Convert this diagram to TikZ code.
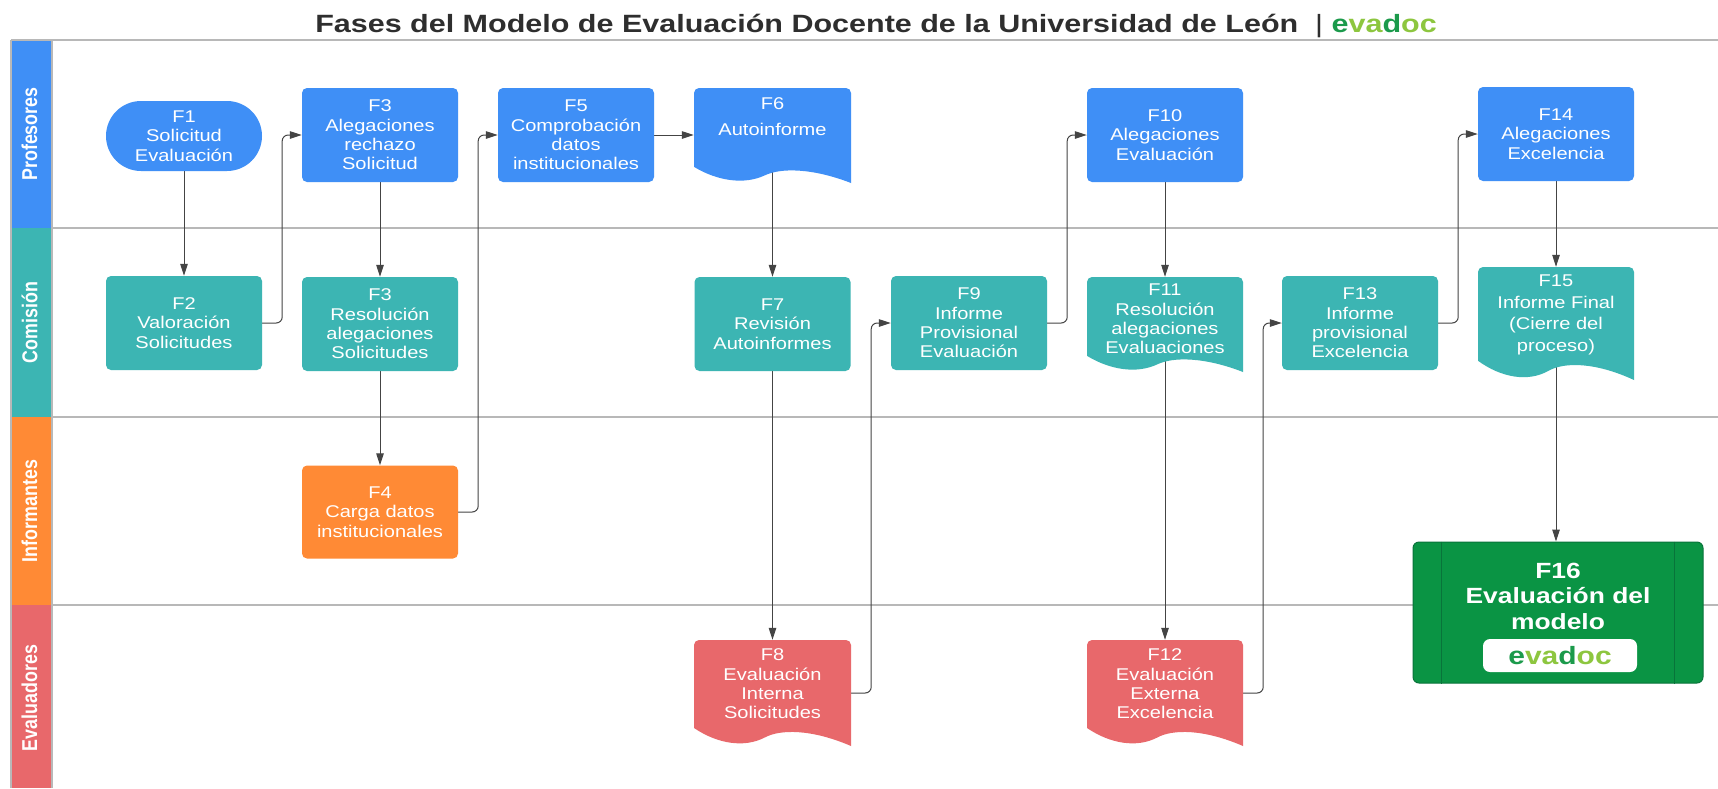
\documentclass[tikz,border=0pt]{standalone}
\usepackage{fontspec}
\usetikzlibrary{arrows.meta,calc}
\newfontfamily\bodyf{Liberation Sans}[FakeStretch=1.18]
\newfontfamily\lanef{Liberation Sans}[FakeStretch=0.83]
\newfontfamily\titlef{Liberation Sans}[FakeStretch=1.2]
\newfontfamily\headf{Liberation Sans}[FakeStretch=1.22]
\definecolor{cblue}{HTML}{3F8FF6}
\definecolor{cteal}{HTML}{3CB5B3}
\definecolor{corange}{HTML}{FF8A35}
\definecolor{cred}{HTML}{E8686B}
\definecolor{cgreen}{HTML}{0A9444}
\definecolor{cgreendark}{HTML}{08743A}
\definecolor{evdark}{HTML}{1B9A4B}
\definecolor{evlight}{HTML}{8DC63F}
\definecolor{lanegray}{HTML}{B8B8B8}
\definecolor{conncol}{HTML}{444444}
\definecolor{titlecol}{HTML}{2E2E2E}
\pgfdeclarelayer{lanes}
\pgfdeclarelayer{links}
\pgfsetlayers{lanes,links,main}
\newcommand\evadoc{\textcolor{evdark}{e}\textcolor{evlight}{va}\textcolor{evdark}{d}\textcolor{evlight}{oc}}
% document shape: x0 y0 w h colour
\newcommand\docfill[5]{%
 \fill[#5] ({#1},{#2+5}) .. controls ({#1},{#2+2.24}) and ({#1+2.24},{#2}) .. ({#1+5},{#2})
  -- ({#1+#3-5},{#2}) .. controls ({#1+#3-2.24},{#2}) and ({#1+#3},{#2+2.24}) .. ({#1+#3},{#2+5})
  -- ({#1+#3},{#2+#4}) .. controls ({#1+0.75*#3},{#2+0.84*#4}) and ({#1+0.55*#3},{#2+0.84*#4}) .. ({#1+0.45*#3},{#2+0.92*#4})
  .. controls ({#1+0.32*#3},{#2+1.02*#4}) and ({#1+0.15*#3},{#2+0.98*#4}) .. ({#1},{#2+0.83*#4}) -- cycle;}
\tikzset{
  box/.style={rectangle, rounded corners=5pt, minimum width=156pt, minimum height=94pt,
    inner sep=0pt, text=white, align=center, font=\bodyf\fontsize{17}{19.3}\selectfont},
  frame/.style={rectangle, inner sep=0pt},
  doctext/.style={inner sep=0pt, text=white, align=center, font=\bodyf\fontsize{17}{19.3}\selectfont},
  lanelabel/.style={rotate=90, inner sep=0pt, text=white, font=\lanef\bfseries\fontsize{21.5}{24}\selectfont},
  laneline/.style={draw=lanegray, line width=1.2pt},
  link/.style={draw=conncol, line width=1pt, rounded corners=6pt, -{Triangle[length=12pt,width=7.5pt]}},
}
\begin{document}
\begin{tikzpicture}[x=1pt,y=-1pt]
\useasboundingbox (0,0) rectangle (1718,788);

% title
\node[anchor=base, inner sep=0pt, text=titlecol, font=\headf\bfseries\fontsize{25}{30}\selectfont] (title) at (876,32)
  {Fases del Modelo de Evaluación Docente de la Universidad de León\ \ {\mdseries|} \evadoc};

% lanes
\begin{pgfonlayer}{lanes}
\fill[white] (0,0) rectangle (1718,788);
\fill[cblue] (11,40) rectangle (52,228);
\fill[cteal] (11,228) rectangle (52,417);
\fill[corange] (11,417) rectangle (52,605);
\fill[cred] (11,605) rectangle (52,788);
\draw[laneline] (11,40) -- (1718,40);
\draw[laneline] (52,228) -- (1718,228);
\draw[laneline] (52,417) -- (1718,417);
\draw[laneline] (52,605) -- (1718,605);
\draw[laneline] (11,40) -- (11,788);
\draw[laneline] (52,40) -- (52,788);
\end{pgfonlayer}
\node[lanelabel] (L1) at (29.5,134) {Profesores};
\node[lanelabel] (L2) at (29.5,322.5) {Comisión};
\node[lanelabel] (L3) at (29.5,511) {Informantes};
\node[lanelabel] (L4) at (29.5,698) {Evaluadores};

% row Profesores
\node[box, fill=cblue, minimum height=70pt, rounded corners=35pt] (F1) at (184,136) {F1\\Solicitud\\Evaluación};
\node[box, fill=cblue] (F3a) at (380,135) {F3\\Alegaciones\\rechazo\\Solicitud};
\node[box, fill=cblue] (F5) at (576,135) {F5\\Comprobación\\datos\\institucionales};
\docfill{694}{88}{157}{95}{cblue}
\node[frame, minimum width=157pt, minimum height=95pt] (F6) at (772.5,135.5) {};
\node[doctext] (F6t) at (772.5,116.4) {F6\\[6.8pt]Autoinforme};
\node[box, fill=cblue] (F10) at (1165,135) {F10\\Alegaciones\\Evaluación};
\node[box, fill=cblue] (F14) at (1556,134) {F14\\Alegaciones\\Excelencia};

% row Comisión
\node[box, fill=cteal] (F2) at (184,323) {F2\\Valoración\\Solicitudes};
\node[box, fill=cteal] (F3b) at (380,324) {F3\\Resolución\\alegaciones\\Solicitudes};
\node[box, fill=cteal] (F7) at (772.5,324) {F7\\Revisión\\Autoinformes};
\node[box, fill=cteal] (F9) at (969,323) {F9\\Informe\\Provisional\\Evaluación};
\docfill{1087}{277}{156}{95}{cteal}
\node[frame, minimum width=156pt, minimum height=95pt] (F11) at (1165,324.5) {};
\node[doctext] (F11t) at (1165,319) {F11\\Resolución\\alegaciones\\Evaluaciones};
\node[box, fill=cteal] (F13) at (1360,323) {F13\\Informe\\provisional\\Excelencia};
\docfill{1478}{267}{156}{113}{cteal}
\node[frame, minimum width=156pt, minimum height=113pt] (F15) at (1556,323.5) {};
\node[doctext, font=\bodyf\fontsize{17}{21.7}\selectfont] (F15t) at (1556,315) {F15\\Informe Final\\(Cierre del\\proceso)};

% row Informantes
\node[box, fill=corange, minimum height=93pt] (F4) at (380,512) {F4\\Carga datos\\institucionales};

% row Evaluadores
\docfill{694}{640}{157}{106}{cred}
\node[frame, minimum width=157pt, minimum height=106pt] (F8) at (772.5,693) {};
\node[doctext] (F8t) at (772.5,684) {F8\\Evaluación\\Interna\\Solicitudes};
\docfill{1087}{640}{156}{106}{cred}
\node[frame, minimum width=156pt, minimum height=106pt] (F12) at (1165,693) {};
\node[doctext] (F12t) at (1165,684) {F12\\Evaluación\\Externa\\Excelencia};

\node[rectangle, rounded corners=6pt, fill=cgreen, draw=cgreendark, line width=1pt,
  minimum width=290pt, minimum height=141pt] (F16) at (1558,612.5) {};
\draw[cgreendark, line width=1pt] ([xshift=29pt]F16.north west) -- ([xshift=29pt]F16.south west);
\draw[cgreendark, line width=1pt] ([xshift=-29pt]F16.north east) -- ([xshift=-29pt]F16.south east);
\node[inner sep=0pt, text=white, align=center, font=\titlef\bfseries\fontsize{22}{25.5}\selectfont] (F16t) at (1558,596)
  {F16\\Evaluación del\\modelo};
\node[rectangle, rounded corners=7pt, fill=white, minimum width=154pt, minimum height=33pt, inner sep=0pt,
  font=\titlef\bfseries\fontsize{25}{30}\selectfont] (evbox) at (1560,655.5) {\evadoc};

% connectors
\begin{pgfonlayer}{links}
\draw[link] (F1) -- (F2);
\draw[link] (F2.east) -- ++(20,0) |- (F3a.west);
\draw[link] (F3a) -- (F3b);
\draw[link] (F3b) -- (F4);
\draw[link] (F4.east) -- ++(20,0) |- (F5.west);
\draw[link] (F5.east) -- (F6.west |- F5.east);
\draw[link] (F6.center) -- (F7.north);
\draw[link] (F7) -- (F8);
\draw[link] (F8.east) -- ++(20,0) |- (F9.west);
\draw[link] (F9.east) -- ++(20,0) |- (F10.west);
\draw[link] (F10) -- (F11);
\draw[link] (F11.center) -- (F12.north);
\draw[link] (F12.east) -- ++(20,0) |- (F13.west);
\draw[link] (F13.east) -- ++(20,0) |- (F14.west);
\draw[link] (F14) -- (F15);
\draw[link] (F15.center) -- (F15.center |- F16.north);
\end{pgfonlayer}
\end{tikzpicture}
\end{document}
